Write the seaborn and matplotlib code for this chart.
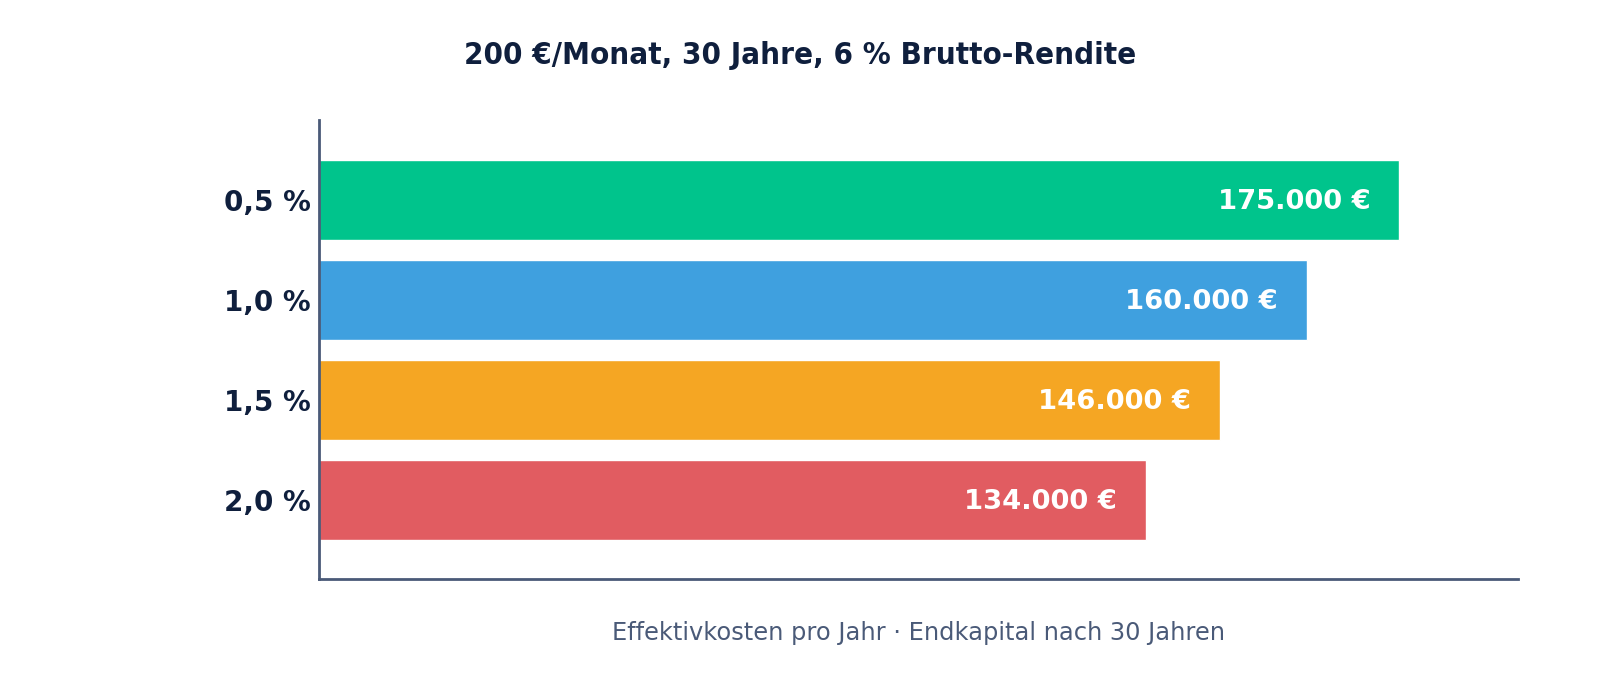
import matplotlib
matplotlib.use("Agg")
import matplotlib.pyplot as plt
import seaborn as sns
import pandas as pd

categories = ["0,5 %", "1,0 %", "1,5 %", "2,0 %"]
values = [175000, 160000, 146000, 134000]
value_labels = ["175.000 €", "160.000 €", "146.000 €", "134.000 €"]
colors = ["#00C48C", "#3FA0DF", "#F5A623", "#E15C61"]

title = "200 €/Monat, 30 Jahre, 6 % Brutto-Rendite"
xlabel = "Effektivkosten pro Jahr · Endkapital nach 30 Jahren"

sns.set_theme(style="white")
plt.rcParams["font.family"] = ["DejaVu Sans"]

df = pd.DataFrame({"cat": categories, "val": values})

fig = plt.figure(figsize=(16, 6.8), dpi=100)
ax = fig.add_axes([0.1996, 0.1485, 0.7494, 0.675])

sns.barplot(data=df, x="val", y="cat", hue="cat", palette=colors, orient="h",
            width=0.8, legend=False, ax=ax, saturation=1)

ax.set_xlim(0, 194300)
ax.set_ylim(3.79, -0.8)

for i, (v, lab) in enumerate(zip(values, value_labels)):
    ax.annotate(lab, xy=(v, i), xytext=(-29, -2), textcoords="offset pixels",
                ha="right", va="center", color="white", fontsize=19.7, fontweight="bold")

ax.set_xticks([])
ax.tick_params(axis="y", length=0, pad=6)
for t in ax.get_yticklabels():
    t.set_fontsize(20)
    t.set_fontweight("bold")
    t.set_color("#0F1F3D")

for s in ["top", "right"]:
    ax.spines[s].set_visible(False)
for s in ["left", "bottom"]:
    ax.spines[s].set_color("#4A5A78")
    ax.spines[s].set_linewidth(2)

ax.set_ylabel("")
ax.set_xlabel(xlabel, fontsize=17.4, color="#4A5A78", labelpad=30.5)

fig.text(0.5, 1 - 55 / 680, title, ha="center", va="center", fontsize=22.4,
         fontweight="bold", color="#0F1F3D", fontstretch="condensed")

fig.savefig("out.png", dpi=100, facecolor="white")
